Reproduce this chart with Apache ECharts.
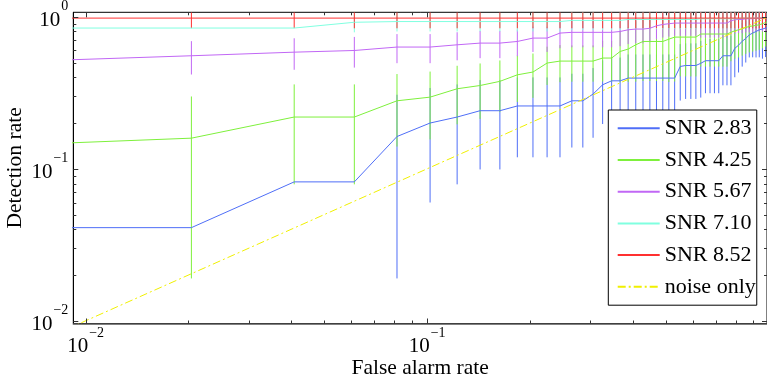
<!DOCTYPE html>
<html><head><meta charset="utf-8">
<script src="https://cdn.jsdelivr.net/npm/echarts@6/dist/echarts.min.js"></script>
<style>html,body{margin:0;padding:0;background:#fff}#c{width:767px;height:381px}</style>
</head><body><div id="c"></div>
<script>
// ---- data ----
const falseAlarm = [0.004, 0.0204, 0.0408, 0.0612, 0.0816, 0.1020, 0.1224, 0.1429, 0.1633, 0.1837, 0.2041, 0.2245, 0.2449, 0.2653, 0.2857, 0.3061, 0.3265, 0.3469, 0.3673, 0.3878, 0.4082, 0.4286, 0.4490, 0.4694, 0.4898, 0.5102, 0.5306, 0.5510, 0.5714, 0.5918, 0.6122, 0.6327, 0.6531, 0.6735, 0.6939, 0.7143, 0.7347, 0.7551, 0.7755, 0.7959, 0.8163, 0.8367, 0.8571, 0.8776, 0.8980, 0.9184, 0.9388, 0.9592, 0.9796, 1.0];

const snr283 = [0.041, 0.041, 0.082, 0.082, 0.163, 0.200, 0.219, 0.241, 0.241, 0.259, 0.259, 0.259, 0.259, 0.280, 0.280, 0.310, 0.357, 0.379, 0.379, 0.395, 0.395, 0.395, 0.395, 0.395, 0.395, 0.395, 0.395, 0.471, 0.478, 0.478, 0.478, 0.494, 0.514, 0.514, 0.514, 0.514, 0.554, 0.554, 0.554, 0.620, 0.650, 0.690, 0.720, 0.760, 0.781, 0.800, 0.821, 0.830, 0.843, 0.860];
const err283 = [0.08, 0.08, 0.11, 0.11, 0.144, 0.14, 0.14, 0.142, 0.142, 0.14, 0.14, 0.14, 0.14, 0.142, 0.142, 0.15, 0.16, 0.16, 0.16, 0.17, 0.17, 0.17, 0.17, 0.17, 0.17, 0.17, 0.17, 0.19, 0.19, 0.19, 0.19, 0.20, 0.20, 0.20, 0.20, 0.20, 0.20, 0.20, 0.20, 0.22, 0.22, 0.22, 0.22, 0.22, 0.24, 0.26, 0.28, 0.30, 0.30, 0.30];

const snr425 = [0.138, 0.159, 0.219, 0.219, 0.280, 0.296, 0.336, 0.353, 0.376, 0.415, 0.433, 0.496, 0.511, 0.511, 0.511, 0.511, 0.535, 0.535, 0.591, 0.613, 0.654, 0.688, 0.688, 0.688, 0.688, 0.712, 0.735, 0.735, 0.735, 0.735, 0.735, 0.770, 0.770, 0.770, 0.770, 0.770, 0.770, 0.770, 0.790, 0.809, 0.820, 0.835, 0.850, 0.863, 0.870, 0.878, 0.886, 0.900, 0.917, 0.930];
const err425 = [0.14, 0.14, 0.14, 0.14, 0.14, 0.14, 0.14, 0.14, 0.14, 0.14, 0.14, 0.14, 0.14, 0.137, 0.137, 0.137, 0.16, 0.16, 0.22, 0.24, 0.28, 0.31, 0.31, 0.31, 0.31, 0.34, 0.36, 0.33, 0.33, 0.33, 0.33, 0.30, 0.30, 0.30, 0.30, 0.30, 0.30, 0.30, 0.28, 0.28, 0.28, 0.28, 0.28, 0.28, 0.28, 0.28, 0.28, 0.28, 0.28, 0.28];

const snr567 = [0.490, 0.554, 0.585, 0.600, 0.632, 0.632, 0.654, 0.671, 0.671, 0.688, 0.724, 0.724, 0.781, 0.790, 0.790, 0.790, 0.790, 0.790, 0.800, 0.821, 0.830, 0.830, 0.840, 0.872, 0.890, 0.900, 0.909, 0.909, 0.909, 0.909, 0.909, 0.909, 0.909, 0.909, 0.909, 0.909, 0.909, 0.909, 0.940, 0.956, 0.960, 0.960, 0.970, 0.970, 0.970, 0.980, 0.980, 0.980, 0.980, 0.980];
const err567 = [0.137, 0.137, 0.137, 0.137, 0.137, 0.137, 0.137, 0.137, 0.137, 0.137, 0.137, 0.137, 0.16, 0.16, 0.16, 0.16, 0.16, 0.16, 0.16, 0.16, 0.16, 0.16, 0.16, 0.16, 0.16, 0.16, 0.16, 0.16, 0.16, 0.16, 0.16, 0.18, 0.18, 0.18, 0.18, 0.18, 0.18, 0.18, 0.18, 0.18, 0.18, 0.18, 0.18, 0.18, 0.18, 0.18, 0.18, 0.18, 0.18, 0.18];

const snr710 = [0.843, 0.843, 0.843, 0.920, 0.930, 0.930, 0.930, 0.930, 0.930, 0.930, 0.930, 0.930, 0.930, 0.946, 0.946, 0.946, 0.946, 0.946, 0.946, 0.960, 0.960, 0.960, 0.960, 0.960, 0.960, 0.960, 0.960, 0.960, 0.960, 0.960, 0.960, 0.970, 0.970, 0.970, 0.970, 0.970, 0.970, 0.970, 0.970, 0.970, 0.970, 0.980, 0.980, 0.980, 0.980, 0.980, 0.980, 0.980, 0.980, 0.980];
const err710 = [0.005, 0.005, 0.005, 0.13, 0.13, 0.13, 0.13, 0.13, 0.13, 0.13, 0.13, 0.13, 0.13, 0.13, 0.13, 0.13, 0.13, 0.13, 0.13, 0.13, 0.13, 0.13, 0.13, 0.13, 0.13, 0.13, 0.13, 0.13, 0.13, 0.13, 0.13, 0.13, 0.13, 0.13, 0.13, 0.13, 0.13, 0.13, 0.13, 0.13, 0.13, 0.13, 0.13, 0.13, 0.13, 0.13, 0.13, 0.13, 0.13, 0.13];

const snr852 = [0.980, 0.980, 0.980, 0.980, 0.980, 0.980, 0.980, 0.980, 0.980, 0.980, 0.980, 0.980, 0.980, 0.980, 0.980, 0.980, 0.980, 0.980, 0.980, 0.980, 0.980, 0.980, 0.980, 0.980, 0.980, 0.980, 0.980, 0.980, 0.980, 0.980, 0.980, 0.980, 0.980, 0.980, 0.980, 0.980, 0.980, 0.980, 0.980, 0.980, 0.980, 0.980, 0.980, 0.980, 0.980, 0.980, 0.980, 0.980, 0.980, 0.980];
const err852 = [0.137, 0.137, 0.137, 0.14, 0.14, 0.14, 0.14, 0.14, 0.14, 0.14, 0.14, 0.14, 0.14, 0.14, 0.14, 0.14, 0.14, 0.14, 0.14, 0.14, 0.14, 0.14, 0.14, 0.14, 0.14, 0.14, 0.14, 0.14, 0.14, 0.14, 0.14, 0.14, 0.14, 0.14, 0.14, 0.14, 0.14, 0.14, 0.14, 0.14, 0.14, 0.14, 0.14, 0.14, 0.14, 0.14, 0.14, 0.14, 0.14, 0.14];

const noiseOnly = [0.004, 0.0204, 0.0408, 0.0612, 0.0816, 0.1020, 0.1224, 0.1429, 0.1633, 0.1837, 0.2041, 0.2245, 0.2449, 0.2653, 0.2857, 0.3061, 0.3265, 0.3469, 0.3673, 0.3878, 0.4082, 0.4286, 0.4490, 0.4694, 0.4898, 0.5102, 0.5306, 0.5510, 0.5714, 0.5918, 0.6122, 0.6327, 0.6531, 0.6735, 0.6939, 0.7143, 0.7347, 0.7551, 0.7755, 0.7959, 0.8163, 0.8367, 0.8571, 0.8776, 0.8980, 0.9184, 0.9388, 0.9592, 0.9796, 1.0];

const seriesNames = ['SNR 2.83', 'SNR 4.25', 'SNR 5.67', 'SNR 7.10', 'SNR 8.52', 'noise only'];
const majorTicks = [0.01, 0.1, 1];
const minorTicks = [0.02, 0.03, 0.04, 0.05, 0.06, 0.07, 0.08, 0.09, 0.2, 0.3, 0.4, 0.5, 0.6, 0.7, 0.8, 0.9];

// ---- chart ----
const FONT = '"Liberation Serif","Times New Roman","DejaVu Serif",serif';
const colors = ['#4f6ef7', '#7ef03c', '#c167f5', '#80ffe0', '#ff3030', '#f0f000'];
const values = [snr283, snr425, snr567, snr710, snr852];
const errors = [err283, err425, err567, err710, err852];

function clampY(cs, y) { return Math.max(cs.y, Math.min(cs.y + cs.height, y)); }

function errBarSeries(vals, errs, color) {
  return {
    type: 'custom', coordinateSystem: 'cartesian2d', silent: true, clip: true,
    data: falseAlarm.map((x, i) => [x, vals[i] - errs[i], vals[i] + errs[i]]),
    encode: { x: 0, y: [1, 2] },
    renderItem(params, api) {
      const x = api.value(0), lo = api.value(1), hi = api.value(2);
      if (!(lo > 0)) return null;
      const cs = params.coordSys;
      const a = api.coord([x, lo]), b = api.coord([x, hi]);
      if (a[0] < cs.x || a[0] > cs.x + cs.width) return null;
      return { type: 'line', shape: { x1: a[0], y1: clampY(cs, a[1]), x2: b[0], y2: clampY(cs, b[1]) },
        style: { stroke: color, lineWidth: 1 } };
    }
  };
}

function tickSeries(vals, isX, len) {
  return {
    type: 'custom', coordinateSystem: 'cartesian2d', silent: true, z: 10,
    data: vals.map(v => isX ? [v, 0.1] : [0.1, v]),
    renderItem(params, api) {
      const cs = params.coordSys;
      const p = api.coord([api.value(0), api.value(1)]);
      const st = { stroke: '#333', lineWidth: 1 };
      if (isX) {
        if (p[0] > cs.x + cs.width) return null;
        const xx = Math.round(p[0]) + 0.5;
        return { type: 'group', children: [
          { type: 'line', shape: { x1: xx, y1: cs.y + cs.height, x2: xx, y2: cs.y + cs.height - len }, style: st },
          { type: 'line', shape: { x1: xx, y1: cs.y, x2: xx, y2: cs.y + len }, style: st }
        ]};
      }
      const yy = Math.round(p[1]) + 0.5;
      return { type: 'group', children: [
        { type: 'line', shape: { x1: cs.x, y1: yy, x2: cs.x + len, y2: yy }, style: st },
        { type: 'line', shape: { x1: cs.x + cs.width, y1: yy, x2: cs.x + cs.width - len, y2: yy }, style: st }
      ]};
    }
  };
}

function powLabel(v) {
  const l = Math.log10(v), e = Math.round(l);
  if (Math.abs(l - e) > 1e-6) return '';
  return '{b|10}{s|' + (e < 0 ? '\u2212' + (-e) : String(e)) + '}';
}
const rich = {
  b: { fontSize: 21, fontFamily: FONT, color: '#000', lineHeight: 31, verticalAlign: 'bottom' },
  s: { fontSize: 14, fontFamily: FONT, color: '#000', lineHeight: 14, verticalAlign: 'top', padding: [0, 0, 0, 1] }
};

const series = [];
values.forEach((vals, i) => {
  series.push(errBarSeries(vals, errors[i], colors[i]));
  series.push({
    type: 'line', name: seriesNames[i], symbol: 'none', clip: true, silent: true,
    data: falseAlarm.map((x, k) => [x, vals[k]]),
    lineStyle: { color: colors[i], width: 1 }, itemStyle: { color: colors[i] }
  });
});
series.push({
  type: 'line', name: seriesNames[5], symbol: 'none', clip: true, silent: true,
  data: falseAlarm.map((x, k) => [x, noiseOnly[k]]),
  lineStyle: { color: colors[5], width: 1, type: [8, 3, 2, 3] }, itemStyle: { color: colors[5] }
});
series.push(tickSeries(majorTicks, true, 5));
series.push(tickSeries(minorTicks, true, 3));
series.push(tickSeries(majorTicks, false, 5));
series.push(tickSeries(minorTicks, false, 3));

const chart = echarts.init(document.getElementById('c'));
chart.setOption({
  animation: false,
  backgroundColor: '#fff',
  grid: { left: 73.3, top: 12.3, right: 0, bottom: 57.5, show: true, borderColor: '#000', borderWidth: 1,
    containLabel: false, outerBoundsMode: 'none' },
  xAxis: {
    type: 'log', logBase: 10, min: 0.0092, max: 0.989,
    axisLine: { show: true, lineStyle: { color: '#555', width: 1.5 } },
    axisTick: { show: false }, splitLine: { show: false }, minorTick: { show: false },
    axisLabel: { formatter: powLabel, rich: rich, margin: 2.5, showMinLabel: true, showMaxLabel: true },
    name: 'False alarm rate', nameLocation: 'middle', nameGap: 34, nameMoveOverlap: false,
    nameTextStyle: { fontFamily: FONT, fontSize: 21.5, color: '#000' }
  },
  yAxis: {
    type: 'log', logBase: 10, min: 0.0096, max: 1.07,
    axisLine: { show: true, lineStyle: { color: '#000', width: 1 } },
    axisTick: { show: false }, splitLine: { show: false }, minorTick: { show: false },
    axisLabel: { formatter: powLabel, rich: rich, margin: 5, padding: [0, 0, 3, 0] },
    name: 'Detection rate', nameLocation: 'middle', nameGap: 46.5, nameMoveOverlap: false,
    nameTextStyle: { fontFamily: FONT, fontSize: 21.5, color: '#000' }
  },
  legend: {
    data: seriesNames, orient: 'vertical', left: 608.3, top: 110, selectedMode: false,
    itemWidth: 42, itemHeight: 14, itemGap: 9.7, padding: [7.3, 1, 7.4, 8.4],
    backgroundColor: '#fff', borderColor: '#000', borderWidth: 1,
    itemStyle: { opacity: 0 },
    textStyle: { fontFamily: FONT, fontSize: 22, color: '#000', lineHeight: 22 }
  },
  series: series
});
</script>
</body></html>
